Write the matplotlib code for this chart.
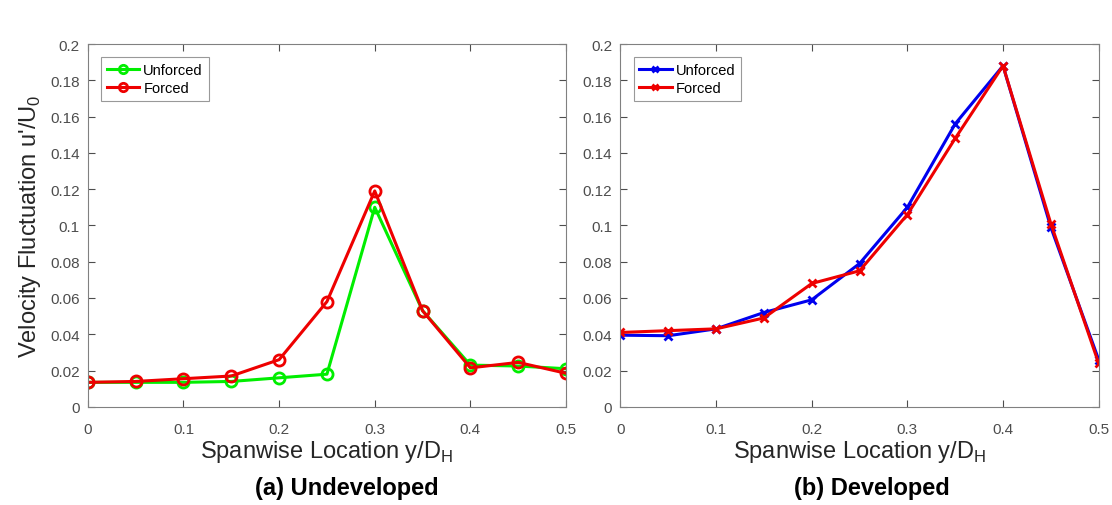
import matplotlib
matplotlib.use("Agg")
import matplotlib.pyplot as plt

plt.rcParams["font.family"] = ["Liberation Sans", "DejaVu Sans"]
plt.rcParams["mathtext.fontset"] = "custom"
plt.rcParams["mathtext.rm"] = "Liberation Sans"

# spanwise positions y/D_H
span = [0, 0.05, 0.1, 0.15, 0.2, 0.25, 0.3, 0.35, 0.4, 0.45, 0.5]

# (a) undeveloped
undev_unforced = [0.0135, 0.0135, 0.0135, 0.014, 0.016, 0.018, 0.110, 0.053, 0.023, 0.0225, 0.021]
undev_forced = [0.0135, 0.014, 0.0155, 0.017, 0.026, 0.058, 0.119, 0.053, 0.0215, 0.0245, 0.0185]

# (b) developed
dev_unforced = [0.0395, 0.0392, 0.043, 0.052, 0.059, 0.079, 0.110, 0.156, 0.188, 0.099, 0.026]
dev_forced = [0.041, 0.042, 0.043, 0.049, 0.068, 0.075, 0.106, 0.148, 0.188, 0.101, 0.024]

xticks = [0, 0.1, 0.2, 0.3, 0.4, 0.5]
yticks = [0, 0.02, 0.04, 0.06, 0.08, 0.1, 0.12, 0.14, 0.16, 0.18, 0.2]
ytick_labels = ["0", "0.02", "0.04", "0.06", "0.08", "0.1", "0.12", "0.14", "0.16", "0.18", "0.2"]
xtick_labels = ["0", "0.1", "0.2", "0.3", "0.4", "0.5"]

GRAY = "#4d4d4d"

fig = plt.figure(figsize=(11.12, 5.06), dpi=100)
ax1 = fig.add_axes([0.079, 0.194, 0.430, 0.717])
ax2 = fig.add_axes([0.558, 0.194, 0.430, 0.717])


def style(ax):
    ax.set_xlim(0, 0.5)
    ax.set_ylim(0, 0.2)
    ax.set_xticks(xticks)
    ax.set_xticklabels(xtick_labels)
    ax.set_yticks(yticks)
    ax.set_yticklabels(ytick_labels)
    ax.tick_params(direction="in", top=True, right=True, labelsize=11,
                   colors=GRAY, labelcolor=GRAY, length=5, pad=6)
    ax.tick_params(axis="x", pad=11)
    for s in ax.spines.values():
        s.set_color("#808080")
        s.set_linewidth(0.8)
    ax.set_xlabel(r"Spanwise Location y/D$_\mathregular{H}$", fontsize=17,
                  color="#262626", labelpad=1)


ax1.plot(span, undev_unforced, color="#00ee00", lw=2.2, marker="o", ms=8,
         mfc="none", mew=2, label="Unforced")
ax1.plot(span, undev_forced, color="#ee0000", lw=2.2, marker="o", ms=8,
         mfc="none", mew=2, label="Forced")
style(ax1)
ax1.set_ylabel(r"Velocity Fluctuation u'/U$_\mathregular{0}$", fontsize=17,
               color="#262626", labelpad=5)

ax2.plot(span, dev_unforced, color="#0000ee", lw=2.2, marker="x", ms=6,
         mew=2, label="Unforced")
ax2.plot(span, dev_forced, color="#ee0000", lw=2.2, marker="x", ms=6,
         mew=2, label="Forced")
style(ax2)

for ax in (ax1, ax2):
    leg = ax.legend(loc="upper left", fontsize=10.5, frameon=True, fancybox=False,
                    borderaxespad=0.9, handlelength=2.2, borderpad=0.4,
                    labelspacing=0.3, handletextpad=0.3, markerscale=0.75)
    leg.get_frame().set_edgecolor("#808080")
    leg.get_frame().set_linewidth(0.8)

fig.text(0.312, 0.022, "(a) Undeveloped", fontsize=17, fontweight="bold",
         ha="center", va="baseline")
fig.text(0.784, 0.022, "(b) Developed", fontsize=17, fontweight="bold",
         ha="center", va="baseline")

fig.savefig("out.png", dpi=100)
